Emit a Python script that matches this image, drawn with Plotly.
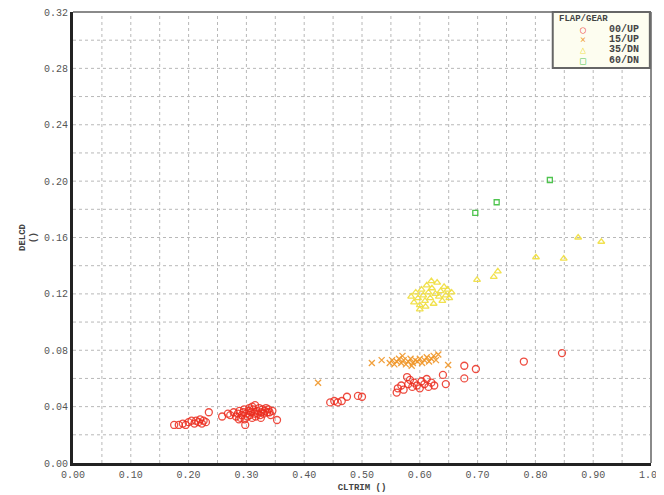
import plotly.graph_objects as go

# 00/UP
up00_x = [0.175,0.183,0.19,0.195,0.20,0.205,0.21,0.213,0.217,0.22,0.223,0.226,0.23,0.235,
          0.258,0.268,
          0.272,0.278,0.282,0.285,0.288,0.29,0.292,0.295,0.297,0.298,0.30,0.302,0.304,0.306,0.308,0.31,
          0.312,0.314,0.315,0.316,0.318,0.32,0.322,0.324,0.326,0.328,0.33,0.332,0.334,0.336,0.338,0.34,
          0.342,0.345,0.353,0.305,0.296,0.287,0.31,0.325,
          0.445,0.452,0.458,0.465,0.474,0.493,0.50,
          0.56,0.562,0.568,0.572,0.578,0.58,0.583,0.587,0.59,0.595,0.60,0.603,0.608,0.612,0.615,0.62,0.625,
          0.64,0.645,0.677,0.677,0.697,0.78,0.846]
up00_y = [0.027,0.027,0.028,0.027,0.029,0.030,0.028,0.030,0.029,0.031,0.028,0.030,0.029,0.036,
          0.033,0.035,
          0.034,0.036,0.033,0.035,0.037,0.032,0.034,0.036,0.031,0.027,0.035,0.033,0.037,0.034,0.036,0.032,
          0.038,0.035,0.041,0.033,0.037,0.035,0.039,0.034,0.036,0.038,0.035,0.037,0.039,0.036,0.038,0.036,
          0.034,0.037,0.0305,0.039,0.038,0.031,0.040,0.032,
          0.043,0.044,0.043,0.044,0.047,0.0476,0.047,
          0.050,0.053,0.055,0.052,0.061,0.056,0.059,0.054,0.057,0.055,0.053,0.058,0.056,0.0596,0.054,0.057,0.055,
          0.0625,0.056,0.069,0.060,0.0667,0.072,0.078]

# 15/UP
up15_x = [0.424,0.517,0.534,0.548,0.552,0.556,0.56,0.564,0.568,0.572,0.576,0.58,0.584,0.588,0.592,
          0.596,0.60,0.604,0.608,0.612,0.616,0.62,0.624,0.628,0.632,0.586,0.57,0.649]
up15_y = [0.057,0.071,0.073,0.071,0.073,0.070,0.072,0.074,0.071,0.073,0.070,0.072,0.074,0.071,0.073,
          0.072,0.074,0.071,0.073,0.075,0.072,0.074,0.076,0.073,0.077,0.069,0.076,0.0695]

# 35/DN
dn35_x = [0.585,0.59,0.593,0.597,0.60,0.603,0.606,0.609,0.612,0.615,0.618,0.621,0.624,0.627,0.63,
          0.633,0.636,0.639,0.642,0.645,0.648,0.651,0.655,0.60,0.62,0.61,
          0.699,0.728,0.735,0.801,0.849,0.874,0.914]
dn35_y = [0.118,0.114,0.121,0.117,0.112,0.123,0.119,0.115,0.126,0.121,0.117,0.124,0.113,0.120,0.128,
          0.118,0.122,0.115,0.125,0.119,0.123,0.117,0.121,0.109,0.129,0.111,
          0.130,0.132,0.136,0.146,0.145,0.160,0.157]

# 60/DN
dn60_x = [0.696,0.733,0.825]
dn60_y = [0.1775,0.185,0.2008]

x_ticks = [0.0,0.1,0.2,0.3,0.4,0.5,0.6,0.7,0.8,0.9,1.0]
y_ticks = [0.0,0.04,0.08,0.12,0.16,0.20,0.24,0.28,0.32]

series_names = ["00/UP", "15/UP", "35/DN", "60/DN"]
series_colors = ["rgba(235,45,30,0.85)", "rgba(240,150,40,0.9)", "rgba(240,222,60,0.9)", "rgba(60,190,60,0.9)"]
legend_glyphs = ["○", "×", "△", "□"]

FONT = "Liberation Mono"

fig = go.Figure()
fig.add_trace(go.Scatter(x=up00_x, y=up00_y, mode="markers", name=series_names[0],
    marker=dict(symbol="circle-open", size=7, color=series_colors[0], line=dict(width=1.3))))
fig.add_trace(go.Scatter(x=up15_x, y=up15_y, mode="markers", name=series_names[1],
    marker=dict(symbol="x-thin-open", size=6, color=series_colors[1], line=dict(width=1.3))))
fig.add_trace(go.Scatter(x=dn35_x, y=dn35_y, mode="markers", name=series_names[2],
    marker=dict(symbol="triangle-up-open", size=6, color=series_colors[2], line=dict(width=1.3))))
fig.add_trace(go.Scatter(x=dn60_x, y=dn60_y, mode="markers", name=series_names[3],
    marker=dict(symbol="square-open", size=5, color=series_colors[3], line=dict(width=1.3))))

grid_x = [i*0.05 for i in range(1, 20)]
grid_y = [i*0.02 for i in range(1, 16)]
shapes = []
for gx in grid_x:
    shapes.append(dict(type="line", xref="x", yref="paper", x0=gx, x1=gx, y0=0, y1=1,
                       line=dict(color="#b8b8b8", width=1, dash="dot"), layer="below"))
for gy in grid_y:
    shapes.append(dict(type="line", xref="paper", yref="y", x0=0, x1=1, y0=gy, y1=gy,
                       line=dict(color="#b8b8b8", width=1, dash="dot"), layer="below"))
shapes.append(dict(type="line", xref="paper", yref="paper", x0=0, x1=1, y0=1, y1=1,
                   line=dict(color="#8a8a8a", width=2)))
shapes.append(dict(type="line", xref="paper", yref="paper", x0=1, x1=1, y0=0, y1=1,
                   line=dict(color="#8a8a8a", width=2)))
# legend box
shapes.append(dict(type="rect", xref="paper", yref="paper", x0=0.830, x1=0.998, y0=0.876, y1=1.0,
                   line=dict(color="#666666", width=2), fillcolor="#fdfdf0", layer="above"))

annotations = [dict(text="<b>FLAP/GEAR</b>", xref="paper", yref="paper", x=0.837, y=0.985,
                    xanchor="left", yanchor="middle", showarrow=False,
                    font=dict(family=FONT, size=9, color="#444444"))]
row_y = [0.962, 0.940, 0.916, 0.892]
for name, col, g, ry in zip(series_names, series_colors, legend_glyphs, row_y):
    annotations.append(dict(text=g, xref="paper", yref="paper", x=0.882, y=ry, xanchor="center",
                            yanchor="middle", showarrow=False,
                            font=dict(family="DejaVu Sans Mono", size=10, color=col)))
    annotations.append(dict(text="<b>" + name + "</b>", xref="paper", yref="paper", x=0.982, y=ry,
                            xanchor="right", yanchor="middle", showarrow=False,
                            font=dict(family=FONT, size=10, color="#444444")))

fig.update_layout(
    width=656, height=487,
    margin=dict(l=65, r=13, t=4, b=32, autoexpand=False),
    paper_bgcolor="white", plot_bgcolor="white",
    font=dict(family=FONT, size=10, color="#555555"),
    shapes=shapes,
    annotations=annotations,
    showlegend=False,
    xaxis=dict(range=[0, 1], tickvals=x_ticks, ticktext=[f"{v:.2f}" for v in x_ticks],
               showgrid=False, zeroline=False, showline=True, linecolor="#222222", linewidth=3,
               ticks="", automargin=False, ticklabeloverflow="allow",
               tickfont=dict(family=FONT, size=10, color="#555555"),
               title=dict(text="<b>CLTRIM ()</b>", font=dict(family=FONT, size=9, color="#444444"), standoff=4)),
    yaxis=dict(range=[0, 0.32], tickvals=y_ticks, ticktext=[f"{v:.2f}" for v in y_ticks],
               showgrid=False, zeroline=False, showline=True, linecolor="#222222", linewidth=3,
               ticks="", automargin=False, ticklabeloverflow="allow",
               tickfont=dict(family=FONT, size=10, color="#555555"),
               title=dict(text="<b>DELCD<br>()</b>", font=dict(family=FONT, size=9, color="#444444"), standoff=6)),
)

fig.write_html("out.html")
